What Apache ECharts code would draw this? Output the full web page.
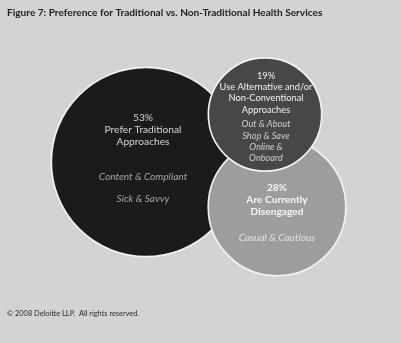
<!DOCTYPE html>
<html>
<head>
<meta charset="utf-8">
<script src="https://cdn.jsdelivr.net/npm/echarts@6/dist/echarts.min.js"></script>
<style>
  html, body { margin: 0; padding: 0; background: #d3d3d3; }
  #chart { width: 401px; height: 343px; }
</style>
</head>
<body>
<div id="chart"></div>
<script>
// Segments of the population and their share (%)
const segments = ['Prefer Traditional Approaches', 'Use Alternative and/or Non-Conventional Approaches', 'Are Currently Disengaged'];
const shares = [53, 19, 28];
const headlines = [
  ['Prefer Traditional', 'Approaches'],
  ['Use Alternative and/or', 'Non-Conventional', 'Approaches'],
  ['Are Currently', 'Disengaged']
];
const subgroups = [
  ['Content & Compliant', 'Sick & Savvy'],
  ['Out & About', 'Shop & Save', 'Online &', 'Onboard'],
  ['Casual & Cautious']
];

// Layout: bubble centres in canvas units, paint order, colours, text spacing
const centreX = [146, 265, 277];
const centreY = [162, 114.5, 207];
const drawOrder = [0, 2, 1];
const fills = ['#1b1b1b', '#474747', '#9d9d9d'];
const headColor = ['#d4d4d4', '#f2f2f2', '#f6f6f6'];
const subColor = ['#a6a6a6', '#cfcfcf', '#e0e0e0'];
const headWeight = ['normal', 'normal', 'bold'];
const fontSizes = [10.2, 9.3, 10.2];
const labelOffset = [[-3, -3.5], [1, 2.5], [0, 6]];
const lineH = [12, 11.4, 12];
const subGap = [23, 3, 14];
const innerGap = [10, 0, 0];
const radiusPerRootShare = 13.0;

function labelText(i) {
  const lines = ['{pct|' + shares[i] + '%}'];
  headlines[i].forEach(t => lines.push('{head|' + t + '}'));
  lines.push('{gap|}');
  subgroups[i].forEach((t, j) => {
    lines.push('{sub|' + t + '}');
    if (innerGap[i] && j < subgroups[i].length - 1) lines.push('{gap2|}');
  });
  return lines.join('\n');
}

const series = drawOrder.map((i, z) => ({
  type: 'scatter',
  name: segments[i],
  z: 2 + z,
  symbol: 'circle',
  symbolSize: 2 * radiusPerRootShare * Math.sqrt(shares[i]),
  itemStyle: { color: fills[i], borderColor: '#f4f4f4', borderWidth: 1.6, opacity: 1 },
  emphasis: { disabled: true },
  data: [[centreX[i], centreY[i], shares[i]]],
  label: {
    show: true,
    position: 'inside',
    offset: labelOffset[i],
    width: 240,
    overflow: 'none',
    formatter: () => labelText(i),
    align: 'center',
    rich: {
      pct: { fontFamily: 'Lato', fontSize: fontSizes[i], color: headColor[i], fontWeight: headWeight[i], lineHeight: lineH[i], align: 'center' },
      head: { fontFamily: 'Lato', fontSize: fontSizes[i], color: headColor[i], fontWeight: headWeight[i], lineHeight: lineH[i], align: 'center' },
      gap: { fontSize: 2, lineHeight: subGap[i], height: subGap[i] },
      gap2: { fontSize: 2, lineHeight: innerGap[i], height: innerGap[i] },
      sub: { fontFamily: 'Lato', fontStyle: 'italic', fontSize: fontSizes[i] - 0.1, color: subColor[i], lineHeight: lineH[i], align: 'center' }
    }
  }
}));

const chart = echarts.init(document.getElementById('chart'), null, { renderer: 'canvas' });
chart.setOption({
  backgroundColor: '#d3d3d3',
  animation: false,
  title: [
    {
      text: 'Figure 7: Preference for Traditional vs. Non-Traditional Health Services',
      left: 7, top: 8, padding: 0,
      textStyle: { fontFamily: 'Lato', fontWeight: 'bold', fontSize: 10.1, color: '#1e1e1e' }
    },
    {
      text: '\u00A9 2008 Deloitte LLP.  All rights reserved.',
      left: 7, top: 310, padding: 0,
      textStyle: { fontFamily: 'Lato', fontWeight: 'normal', fontSize: 7.4, color: '#2a2a2a' }
    }
  ],
  grid: { left: 0, right: 0, top: 0, bottom: 0 },
  xAxis: { type: 'value', min: 0, max: 401, show: false },
  yAxis: { type: 'value', min: 0, max: 343, inverse: true, show: false },
  series: series
});
</script>
</body>
</html>
